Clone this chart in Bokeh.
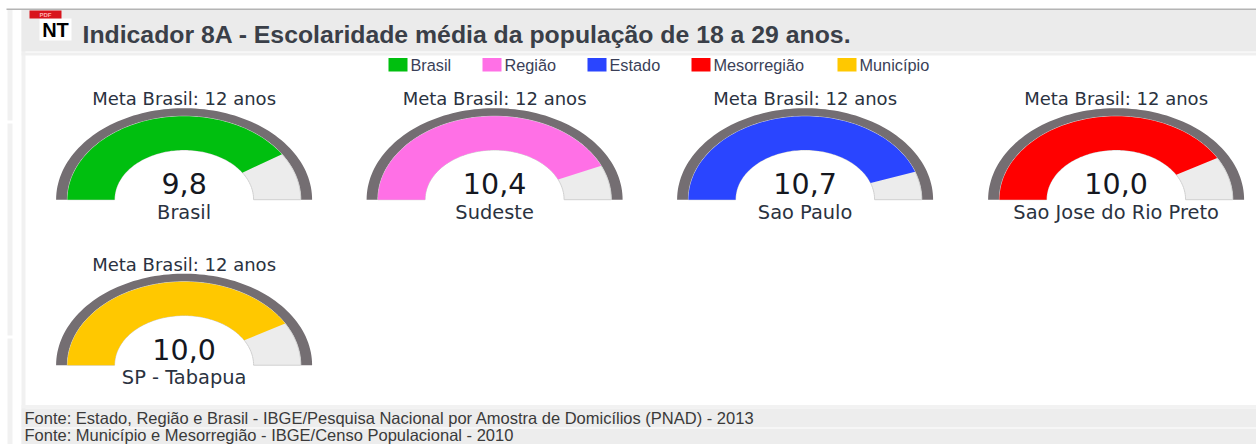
import numpy as np
from bokeh.plotting import figure
from bokeh.models import Range1d
from bokeh.core.properties import value
from bokeh.embed import file_html
from bokeh.resources import INLINE

# --- data ---
names = ["Brasil", "Sudeste", "Sao Paulo", "Sao Jose do Rio Preto", "SP - Tabapua"]
values = [9.8, 10.4, 10.7, 10.0, 10.0]
value_labels = ["9,8", "10,4", "10,7", "10,0", "10,0"]
colors = ["#00bf0f", "#ff70e6", "#2a45ff", "#ff0000", "#ffc800"]
legend_names = ["Brasil", "Região", "Estado", "Mesorregião", "Município"]
legend_colors = ["#00bf0f", "#ff70e6", "#2a45ff", "#ff0000", "#ffc800"]
meta = 12
meta_label = "Meta Brasil: 12 anos"
title = "Indicador 8A - Escolaridade média da população de 18 a 29 anos."
sources = ["Fonte: Estado, Região e Brasil - IBGE/Pesquisa Nacional por Amostra de Domicílios (PNAD) - 2013",
           "Fonte: Município e Mesorregião - IBGE/Censo Populacional - 2010"]

# --- layout ---
W, H = 1256, 444
centers = [(183.6, 199.2), (494.1, 199.2), (804.6, 199.2), (1115.6, 199.2), (183.6, 364.7)]
ASPECT = 0.715
R_OUT, R_TRACK, R_IN = 128.0, 116.7, 69.5
legend_x = [388, 482, 587, 691, 837]
legend_lab_x = [410, 504, 609, 713, 859]

p = figure(width=W, height=H, output_backend="svg", toolbar_location=None,
           x_range=Range1d(0, W), y_range=Range1d(H, 0), min_border=0,
           margin=(0, 0, 0, 0), background_fill_color="white", border_fill_color="white")
p.axis.visible = False
p.grid.visible = False
p.outline_line_color = None


def ring(cx, cy, r0, r1, a0, a1):
    t = np.linspace(a0, a1, 90)
    xo = cx + r1 * np.cos(t)
    yo = cy - r1 * ASPECT * np.sin(t)
    xi = cx + r0 * np.cos(t[::-1])
    yi = cy - r0 * ASPECT * np.sin(t[::-1])
    return np.concatenate([xo, xi]), np.concatenate([yo, yi])


# page furniture
p.quad(left=[7, 7, 7, 21], right=[12, 12, 12, 25], top=[9, 123, 338, 9], bottom=[120, 335, 444, 444],
       fill_color="#f1f1f1", line_color=None)
p.quad(left=[6], right=[W], top=[8], bottom=[9.5], fill_color="#b4b4b4", line_color=None)
p.quad(left=[21], right=[W], top=[9.5], bottom=[51], fill_color="#ebebeb", line_color=None)
p.quad(left=[21], right=[W], top=[52], bottom=[55], fill_color="#efefef", line_color=None)
p.quad(left=[21], right=[W], top=[404.5], bottom=[408], fill_color="#f2f2f2", line_color=None)
p.quad(left=[21, 21], right=[W, W], top=[408, 428], bottom=[427, 444], fill_color="#ededed", line_color=None)

# pdf icon
p.quad(left=[39], right=[71], top=[18], bottom=[40], fill_color="white", line_color=None)
p.quad(left=[29], right=[61], top=[10], bottom=[18], fill_color="#d8141c", line_color=None)
p.text(x=[45], y=[14.5], text=["PDF"], text_font_size="6px", text_color="#ffb0b0", text_align="center",
       text_baseline="middle", text_font=value("Liberation Sans"), text_font_style="bold")
p.text(x=[55], y=[29], text=["NT"], text_font_size="20px", text_color="#000000", text_align="center",
       text_baseline="middle", text_font=value("Liberation Sans"), text_font_style="bold")

p.text(x=[82], y=[34], text=[title], text_font_size="24.8px", text_color="#3a3f48", text_align="left",
       text_baseline="middle", text_font=value("Liberation Sans"), text_font_style="bold")

# legend
p.quad(left=legend_x, right=[x + 19 for x in legend_x], top=[57.5] * 5, bottom=[71] * 5,
       fill_color=legend_colors, line_color=None)
p.text(x=legend_lab_x, y=[64] * 5, text=legend_names, text_font_size="16.3px", text_color="#3a3f58",
       text_align="left", text_baseline="middle", text_font=value("Liberation Sans"))

# gauges
for (cx, cy), name, v, lab, col in zip(centers, names, values, value_labels, colors):
    ax, ay = ring(cx, cy, R_TRACK, R_OUT, 0, np.pi)
    p.patch(ax, ay, fill_color="#746e72", line_color=None)
    bx, by = ring(cx, cy, R_IN, R_TRACK, 0, np.pi)
    p.patch(bx, by, fill_color="#ececec", line_color="#d0d0d0", line_width=1)
    a = np.pi * (1 - v / meta)
    fx, fy = ring(cx, cy, R_IN, R_TRACK, a, np.pi)
    p.patch(fx, fy, fill_color=col, line_color=None)
    p.text(x=[cx], y=[cy - 101], text=[meta_label], text_font_size="18px", text_color="#2a3240",
           text_align="center", text_baseline="middle", text_font=value("DejaVu Sans"))
    p.text(x=[cx], y=[cy - 16], text=[lab], text_font_size="28.5px", text_color="#15181f",
           text_align="center", text_baseline="middle", text_font=value("DejaVu Sans"))
    p.text(x=[cx], y=[cy + 12.5], text=[name], text_font_size="19.4px", text_color="#2a3240",
           text_align="center", text_baseline="middle", text_font=value("DejaVu Sans"))

# sources
p.text(x=[24, 24], y=[417.5, 434.5], text=sources, text_font_size="16.5px", text_color="#3a3a3a",
       text_align="left", text_baseline="middle", text_font=value("Liberation Sans"))

open("out.html", "w").write(file_html(p, INLINE))
